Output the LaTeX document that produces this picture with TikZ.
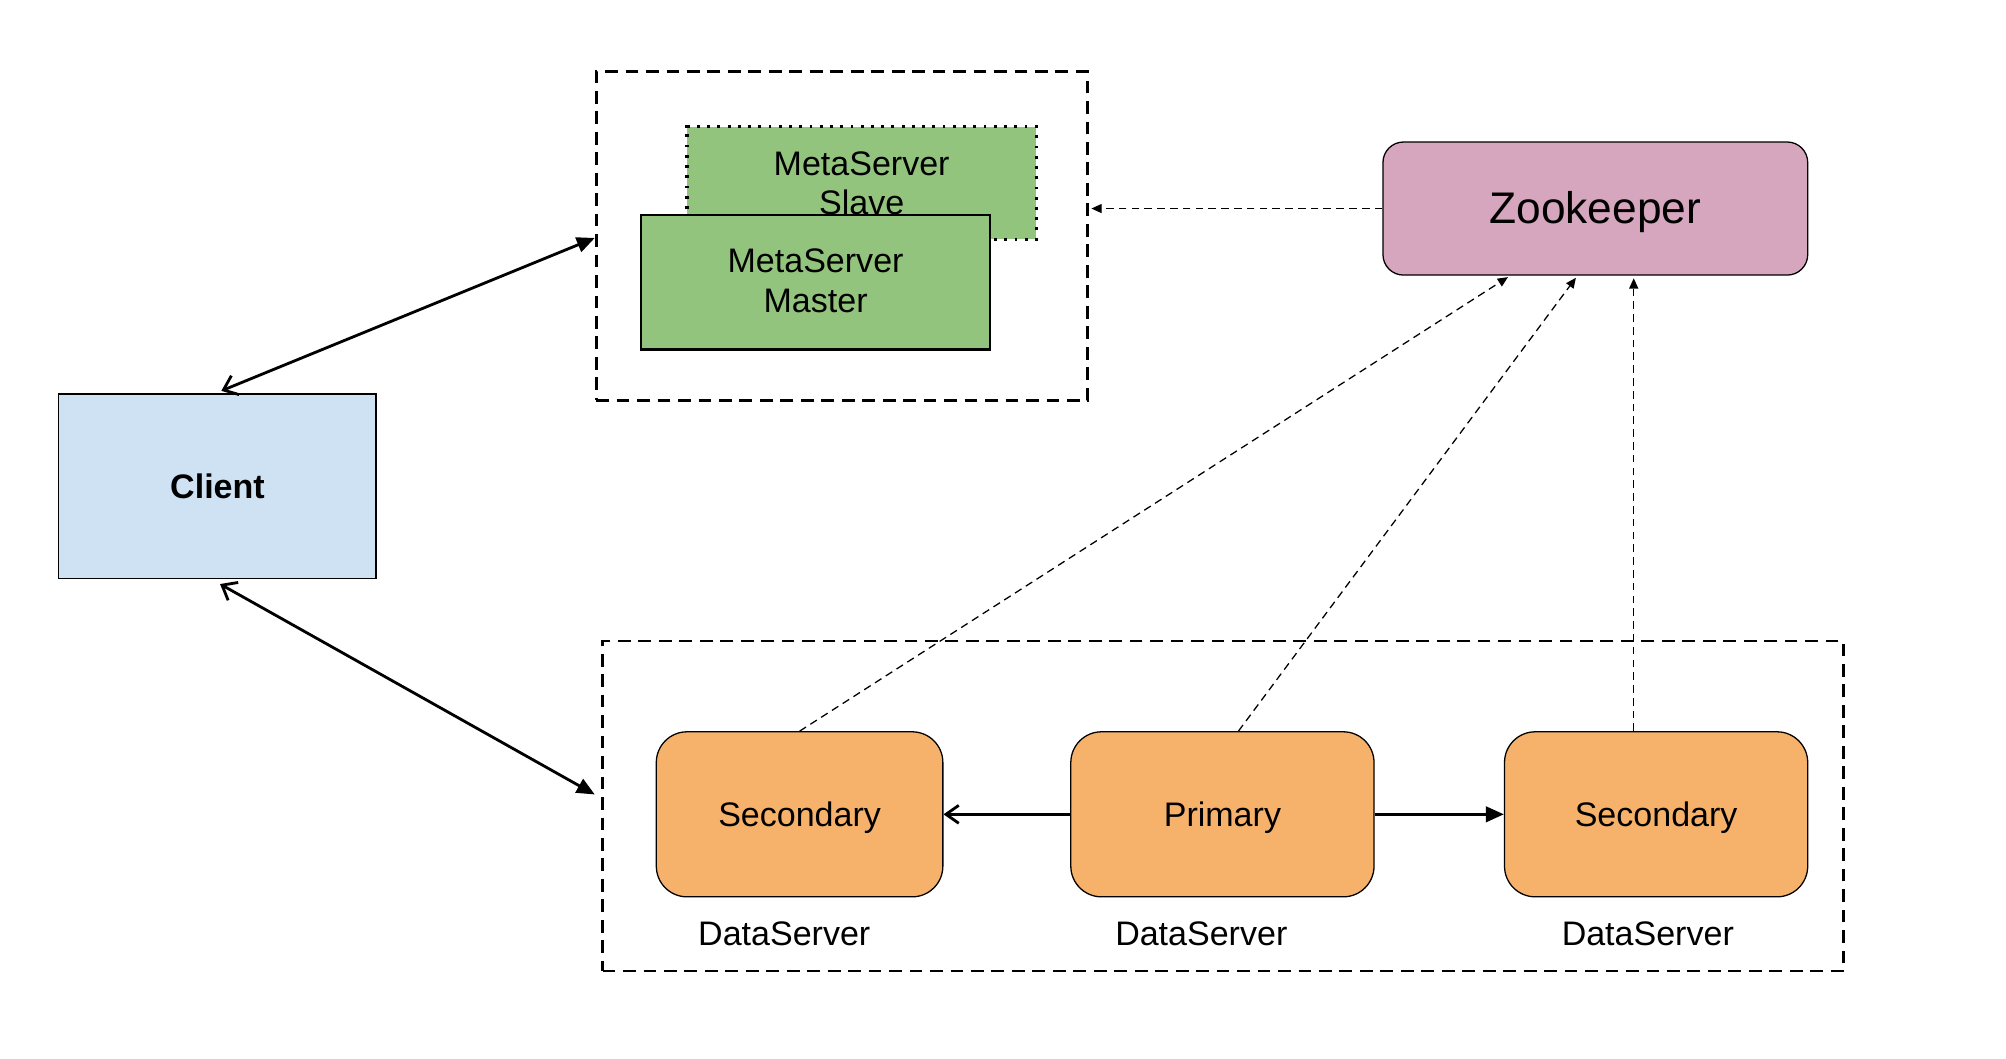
\documentclass[tikz,border=0pt]{standalone}
\usepackage{fontspec}
\setmainfont{Liberation Sans}
\usetikzlibrary{arrows.meta,calc}
\definecolor{msgreen}{HTML}{93C47D}
\definecolor{clblue}{HTML}{CFE2F3}
\definecolor{zkpink}{HTML}{D5A6BD}
\definecolor{dsorange}{HTML}{F6B26B}
\newcommand{\lowertext}[2]{\raisebox{-#1}[\height][\depth]{#2}}
\tikzset{
  txt/.style={font=\fontsize{13.3}{15.5}\selectfont, align=center, inner sep=0pt},
  groupbox/.style={draw, line width=1.1pt, dash pattern=on 5pt off 3pt, minimum width=#1},
  msbox/.style={draw, fill=msgreen, txt, line width=1pt},
  dsbox/.style={draw, fill=dsorange, txt, rounded corners=12pt, line width=0.5pt, minimum width=118.5pt, minimum height=64.5pt},
  solidarrow/.style={line width=1.1pt},
  thindash/.style={line width=0.5pt, dash pattern=on 3pt off 2pt, -{Triangle[length=4pt,width=3.5pt]}, shorten >=1pt},
}
\begin{document}
\begin{tikzpicture}[x=0.5pt,y=-0.5pt]
\useasboundingbox (0,0) rectangle (1568,827);
% groups
\node[groupbox=192pt, minimum height=128.5pt] (meta) at (658,184.5) {};
\node[groupbox=485pt, minimum height=129pt] (lower) at (956,630) {};
% metaservers
\node[msbox, line width=1.2pt, dash pattern=on 1.1pt off 2.9pt, minimum width=136.5pt, minimum height=44pt, text depth=0pt] (slave) at (673.5,143) {MetaServer\\Slave};
\node[msbox, minimum width=136.5pt, minimum height=52.5pt] (master) at (637.5,220.5) {\lowertext{1pt}{\begin{tabular}{@{}c@{}}MetaServer\\Master\end{tabular}}};
% zookeeper
\node[draw, fill=zkpink, rounded corners=8pt, line width=0.5pt, minimum width=166pt, minimum height=52pt, font=\fontsize{17.3}{20}\selectfont] (zk) at (1247,163) {\lowertext{1.5pt}{Zookeeper}};
% client
\node[draw, fill=clblue, line width=0.5pt, minimum width=124pt, minimum height=72pt, txt, font=\fontsize{13.3}{15.5}\selectfont\bfseries] (client) at (170,380) {Client};
% data servers
\node[dsbox, minimum width=112pt] (sec1) at (625,636.5) {\lowertext{1.2pt}{Secondary}};
\node[dsbox] (prim) at (955.5,636.5) {\lowertext{1.2pt}{Primary}};
\node[dsbox] (sec2) at (1294.5,636.5) {\lowertext{1.2pt}{Secondary}};
\node[txt] (l1) at (613,730) {DataServer};
\node[txt] (l2) at (939,730) {DataServer};
\node[txt] (l3) at (1288,730) {DataServer};
% client arrows
\draw[solidarrow, {Straight Barb[length=5pt,width=8pt]}-{Triangle[length=7pt,width=6pt]}] ($(client.north)+(3,-2)$) -- ($(meta.west)+(0,1.5)$);
\draw[solidarrow, {Straight Barb[length=5pt,width=8pt]}-{Triangle[length=7pt,width=6pt]}] ($(client.south)+(2,4)$) -- ($(lower.west)+(-5,-9)$);
% primary arrows
\draw[solidarrow, -{Straight Barb[length=5pt,width=7pt]}] (prim.west) -- (sec1.east);
\draw[solidarrow, -{Triangle[length=7pt,width=6pt]}] (prim.east) -- (sec2.west);
% zookeeper dashed
\draw[thindash] (zk.west) -- (zk.west -| meta.east);
\draw[thindash] (sec1.north) -- ($(zk.south west)!0.3!(zk.south east)$);
\draw[thindash] ($(prim.north)+(12.5,0)$) -- ($(zk.south west)!0.458!(zk.south east)$);
\coordinate (s2top) at ($(sec2.north)+(-17.5,0)$);
\draw[thindash] (s2top) -- (s2top |- zk.south);
\end{tikzpicture}
\end{document}
